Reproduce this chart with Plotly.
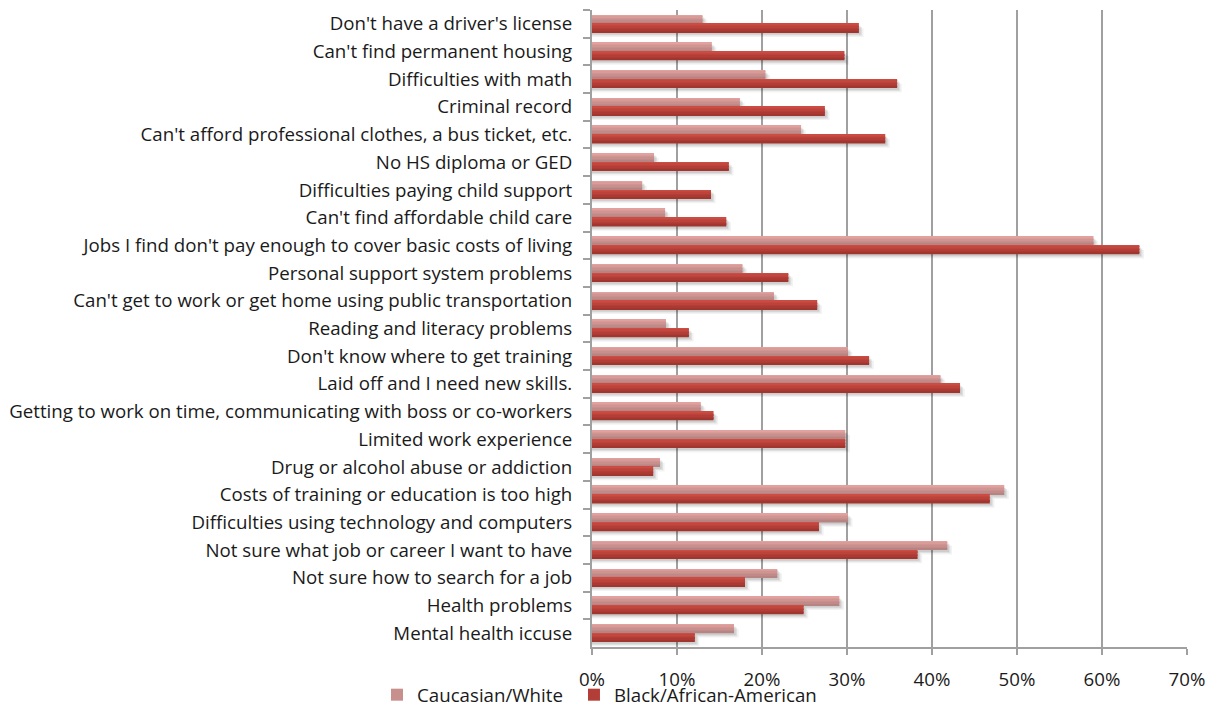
import plotly.graph_objects as go

# Survey: barriers to employment, by race (share of respondents, %)
categories = [
    "Don't have a driver's license",
    "Can't find permanent housing",
    "Difficulties with math",
    "Criminal record",
    "Can't afford professional clothes, a bus ticket, etc.",
    "No HS diploma or GED",
    "Difficulties paying child support",
    "Can't find affordable child care",
    "Jobs I find don't pay enough to cover basic costs of living",
    "Personal support system problems",
    "Can't get to work or get home using public transportation",
    "Reading and literacy problems",
    "Don't know where to get training",
    "Laid off and I need new skills.",
    "Getting to work on time, communicating with boss or co-workers",
    "Limited work experience",
    "Drug or alcohol abuse or addiction",
    "Costs of training or education is too high",
    "Difficulties using technology and computers",
    "Not sure what job or career I want to have",
    "Not sure how to search for a job",
    "Health problems",
    "Mental health iccuse",
]

white = [13.0, 14.1, 20.4, 17.4, 24.6, 7.3, 5.9, 8.6, 59.0, 17.7, 21.4, 8.7,
         30.1, 41.0, 12.8, 29.8, 8.0, 48.5, 30.1, 41.8, 21.8, 29.1, 16.7]
black = [31.4, 29.7, 35.9, 27.4, 34.5, 16.1, 14.0, 15.8, 64.4, 23.1, 26.5, 11.4,
         32.6, 43.3, 14.3, 29.8, 7.2, 46.8, 26.7, 38.3, 18.0, 24.9, 12.1]

x_ticks = [0, 10, 20, 30, 40, 50, 60, 70]
x_tick_labels = ["0%", "10%", "20%", "30%", "40%", "50%", "60%", "70%"]

series = [
    ("Caucasian/White", white, "#e2a19e", "#b68482", "legend"),
    ("Black/African-American", black, "#cc4b42", "#a1362f", "legend2"),
]

BAR_W = 0.315     # thickness of one bar, in category units
N_BANDS = 6       # horizontal bands used to shade each bar top-to-bottom
GRID = "#a0a0a0"
FONT = "Open Sans, Lato, Liberation Sans, sans-serif"
FONT_SIZE = 18.7


def hex_to_rgb(h):
    h = h.lstrip("#")
    return tuple(int(h[i:i + 2], 16) for i in (0, 2, 4))


def blend(c1, c2, t):
    a, b = hex_to_rgb(c1), hex_to_rgb(c2)
    return "rgb(%d,%d,%d)" % tuple(round(a[i] + (b[i] - a[i]) * t) for i in range(3))


fig = go.Figure()

# soft drop shadows, drawn underneath the bars
for idx, (name, vals, top, bottom, leg) in enumerate(series):
    start = -BAR_W + idx * BAR_W
    for dy, dx, alpha in [(0.16, 0.55, 0.05), (0.11, 0.35, 0.08), (0.07, 0.2, 0.08)]:
        fig.add_trace(go.Bar(
            y=categories, x=vals, base=0, orientation="h",
            offset=start + dy, width=BAR_W,
            marker=dict(color="rgba(0,0,0,%.2f)" % alpha, line=dict(width=0)),
            showlegend=False, hoverinfo="skip",
        ))
        # extend shadow slightly past the bar end
        fig.add_trace(go.Bar(
            y=categories, x=[dx] * len(vals), base=vals, orientation="h",
            offset=start + dy, width=BAR_W,
            marker=dict(color="rgba(0,0,0,%.2f)" % alpha, line=dict(width=0)),
            showlegend=False, hoverinfo="skip",
        ))

# bars, shaded in bands from the lighter top edge to the darker bottom edge
for idx, (name, vals, top, bottom, leg) in enumerate(series):
    start = -BAR_W + idx * BAR_W
    band = BAR_W / N_BANDS
    for k in range(N_BANDS):
        fig.add_trace(go.Bar(
            y=categories, x=vals, orientation="h", name=name,
            offset=start + k * band, width=band * 1.04,
            marker=dict(color=blend(top, bottom, k / (N_BANDS - 1)), line=dict(width=0)),
            legendgroup=name, legend=leg, showlegend=(k == N_BANDS // 2),
            hovertemplate="%{y}: %{x}%<extra>" + name + "</extra>",
        ))

legend_style = dict(
    orientation="h", xanchor="left", y=-0.0754, yanchor="middle",
    bgcolor="rgba(0,0,0,0)", font=dict(family=FONT, size=FONT_SIZE, color="#1a1a1a"),
)

fig.update_layout(
    width=1215, height=706,
    margin=dict(l=592, r=28, t=10, b=59, autoexpand=False),
    paper_bgcolor="white", plot_bgcolor="white",
    barmode="overlay",
    font=dict(family=FONT, size=FONT_SIZE, color="#1a1a1a"),
    legend=dict(x=-0.3613, **legend_style),
    legend2=dict(x=-0.0303, **legend_style),
    xaxis=dict(
        range=[0, 70], tickvals=x_ticks, ticktext=x_tick_labels,
        showgrid=True, gridcolor=GRID, gridwidth=2, zeroline=False,
        showline=True, linecolor=GRID, linewidth=2,
        ticks="outside", ticklen=6, tickwidth=2, tickcolor=GRID,
        ticklabelstandoff=9,
    ),
    yaxis=dict(
        type="category", range=[22.5, -0.5],
        showgrid=False, zeroline=False,
        showline=True, linecolor=GRID, linewidth=2,
        ticks="outside", tickson="boundaries", ticklen=7, tickwidth=2, tickcolor=GRID,
        ticklabelstandoff=14,
    ),
)

fig.write_html("out.html")
